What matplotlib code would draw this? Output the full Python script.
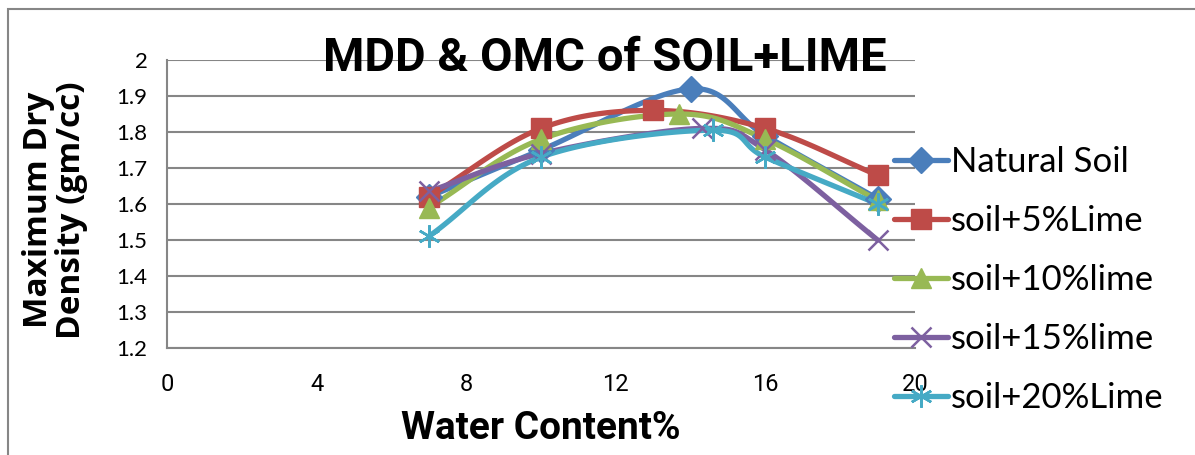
import numpy as np
import matplotlib
matplotlib.use("Agg")
import matplotlib.pyplot as plt
from matplotlib.patches import Rectangle

# ---- data ----
series_names = ["Natural Soil", "soil+5%Lime", "soil+10%lime", "soil+15%lime", "soil+20%Lime"]
natural_x = [7, 10, 14, 16, 19]
natural_y = [1.62, 1.75, 1.92, 1.79, 1.615]
lime5_x = [7, 10, 13, 16, 19]
lime5_y = [1.62, 1.81, 1.86, 1.81, 1.68]
lime10_x = [7, 10, 13.7, 16, 19]
lime10_y = [1.59, 1.78, 1.85, 1.78, 1.61]
lime15_x = [7, 10, 14.3, 16, 19]
lime15_y = [1.635, 1.74, 1.81, 1.75, 1.50]
lime20_x = [7, 10, 14.6, 16, 19]
lime20_y = [1.51, 1.73, 1.805, 1.73, 1.60]
x_ticks = [0, 4, 8, 12, 16, 20]
y_ticks = [1.2, 1.3, 1.4, 1.5, 1.6, 1.7, 1.8, 1.9, 2.0]
y_tick_labels = ["1.2", "1.3", "1.4", "1.5", "1.6", "1.7", "1.8", "1.9", "2"]

colors = ["#4A7EBB", "#BE4B48", "#98B954", "#7D60A0", "#46AAC5"]
asterisk = (6, 2, 0)
markers = ["D", "s", "^", "x", asterisk]
msizes = [13, 15, 15, 15, 16]


def smooth(xs, ys, n=30):
    """Catmull-Rom curve through the points (line rendering only)."""
    P = np.column_stack([xs, ys]).astype(float)
    P = np.vstack([P[0] - (P[1] - P[0]), P, P[-1] + (P[-1] - P[-2])])
    out = []
    for i in range(1, len(P) - 2):
        p0, p1, p2, p3 = P[i - 1], P[i], P[i + 1], P[i + 2]
        t = np.linspace(0, 1, n)[:, None]
        seg = 0.5 * ((2 * p1) + (-p0 + p2) * t + (2 * p0 - 5 * p1 + 4 * p2 - p3) * t ** 2
                     + (-p0 + 3 * p1 - 3 * p2 + p3) * t ** 3)
        out.append(seg if i == 1 else seg[1:])
    out = np.vstack(out)
    return out[:, 0], out[:, 1]


W, H = 1195, 455
fig = plt.figure(figsize=(W / 100, H / 100), dpi=100)
fig.patch.set_facecolor("white")
ax = fig.add_axes([167 / W, 1 - 348 / H, (915 - 167) / W, (348 - 60) / H])

# outer chart frame
fig.patches.append(Rectangle((8 / W, -0.1), 1.2, 1 - 9 / H + 0.1, transform=fig.transFigure,
                             fill=False, edgecolor="#868686", linewidth=1.5, zorder=0))

xs_all = [natural_x, lime5_x, lime10_x, lime15_x, lime20_x]
ys_all = [natural_y, lime5_y, lime10_y, lime15_y, lime20_y]
handles = []
for name, xs, ys, c, m, ms in zip(series_names, xs_all, ys_all, colors, markers, msizes):
    sx, sy = smooth(xs, ys)
    mew = 1.8 if m in ("x", asterisk) else 1
    ax.plot(sx, sy, color=c, lw=3.8, solid_capstyle="round", zorder=3)
    ax.plot(xs, ys, linestyle="none", marker=m, color=c, markersize=ms,
            markeredgewidth=mew, zorder=4)
    h, = ax.plot([], [], color=c, lw=3.8, marker=m, markersize=ms,
                 markeredgewidth=mew, solid_capstyle="round")
    handles.append(h)

ax.set_xlim(0, 20)
ax.set_ylim(1.2, 2.0)
ax.set_xticks(x_ticks)
ax.set_yticks(y_ticks)
ax.set_yticklabels(y_tick_labels)
ax.yaxis.grid(True, color="#868686", linewidth=1.5)
ax.set_axisbelow(True)
for s in ["top", "right"]:
    ax.spines[s].set_visible(False)
for s in ["left", "bottom"]:
    ax.spines[s].set_color("#868686")
    ax.spines[s].set_linewidth(1.5)
ax.tick_params(length=0)
ax.tick_params(axis="x", pad=18)
ax.tick_params(axis="y", pad=14)
for lab in ax.get_xticklabels():
    lab.set_fontfamily(["Roboto", "DejaVu Sans"])
    lab.set_fontsize(17)
for lab in ax.get_yticklabels():
    lab.set_fontfamily(["Lato", "DejaVu Sans"])
    lab.set_fontsize(16)

ax.set_xlabel("Water Content%", fontsize=28, fontweight="bold",
              fontfamily=["Roboto", "DejaVu Sans"], labelpad=10)
fig.text(55 / W, 1 - 210 / H, "Maximum Dry\nDensity (gm/cc)", rotation=90, ha="center", va="center",
         fontsize=24, fontweight="bold", fontfamily=["Open Sans", "DejaVu Sans"], linespacing=1.0)

fig.text(605 / W, 1 - 58 / H, "MDD & OMC of SOIL+LIME", ha="center", va="center",
         fontsize=34, fontweight="bold", fontfamily=["Roboto", "DejaVu Sans"])

leg = fig.legend(handles, series_names, loc="upper left", bbox_to_anchor=(880 / W, 1 - 132 / H),
                 frameon=False, prop={"family": ["Lato", "DejaVu Sans"], "size": 25},
                 handlelength=1.55, handletextpad=0.1, labelspacing=0.78, borderaxespad=0)

fig.savefig("out.png", dpi=100, facecolor="white")
